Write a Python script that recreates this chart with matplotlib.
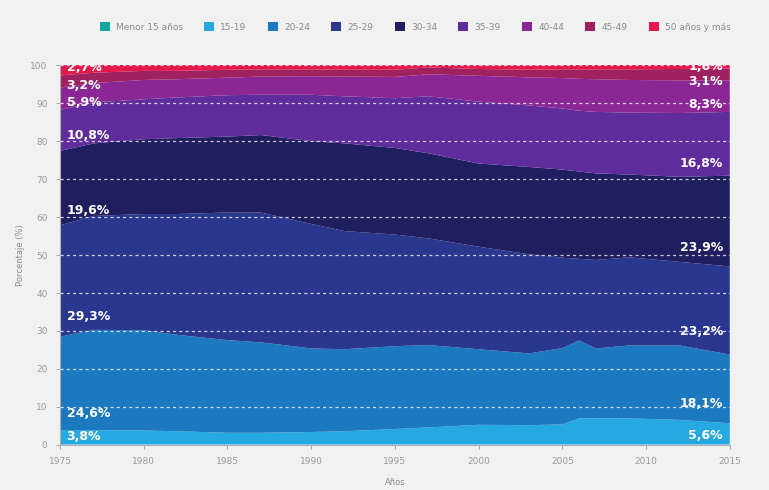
import numpy as np
import matplotlib
matplotlib.use("Agg")
import matplotlib.pyplot as plt
from matplotlib.patches import Patch

years = [1975, 1977, 1980, 1982, 1985, 1987, 1990, 1992, 1995, 1997,
         2000, 2003, 2005, 2006, 2007, 2009, 2012, 2015]

grupos = ["Menor 15 años", "15-19", "20-24", "25-29", "30-34",
          "35-39", "40-44", "45-49", "50 años y más"]

menor15 = [0.1] * 18
g15_19 = [3.8, 3.8, 3.7, 3.5, 3.1, 3.1, 3.3, 3.5, 4.1, 4.5,
          5.2, 5.1, 5.3, 6.9, 6.9, 6.9, 6.5, 5.6]
g20_24 = [24.6, 26.4, 26.4, 25.4, 24.4, 23.8, 22.0, 21.6, 21.8, 21.7,
          19.9, 18.9, 20.1, 20.5, 18.4, 19.2, 19.6, 18.1]
g25_29 = [29.3, 30.0, 30.6, 31.8, 33.6, 34.2, 32.8, 31.1, 29.4, 28.1,
          27.0, 26.1, 23.8, 21.5, 23.3, 23.2, 22.0, 23.2]
g30_34 = [19.6, 19.1, 19.7, 20.0, 20.0, 20.4, 21.8, 23.1, 22.8, 22.4,
          21.9, 23.0, 23.2, 23.0, 22.8, 21.8, 22.4, 23.9]
g35_39 = [10.8, 10.8, 10.5, 10.7, 10.9, 10.6, 12.2, 12.4, 13.1, 15.0,
          16.3, 16.2, 16.1, 16.0, 16.2, 16.3, 16.8, 16.8]
g40_44 = [5.9, 5.1, 5.1, 4.8, 4.6, 4.8, 4.9, 5.2, 5.6, 5.8,
          6.8, 7.4, 8.0, 8.4, 8.6, 8.6, 8.6, 8.3]
g45_49 = [3.2, 2.7, 2.4, 2.2, 2.1, 1.9, 1.8, 1.8, 1.9, 1.8,
          1.8, 2.0, 2.3, 2.5, 2.6, 2.8, 3.0, 3.1]
g50mas = [2.7, 2.2, 1.8, 1.5, 1.3, 1.2, 1.1, 1.2, 1.2, 1.0,
          1.0, 1.2, 1.1, 1.2, 1.2, 1.3, 1.4, 1.6]

series = [menor15, g15_19, g20_24, g25_29, g30_34, g35_39, g40_44, g45_49, g50mas]

colores = ["#17a79a", "#25a9e0", "#1c79c0", "#29378f", "#1f1e5e",
           "#5f2c9c", "#8a2795", "#a0215f", "#e3184b"]

# etiquetas de inicio y final (texto, y)
etq_ini = [("2,7%", 99.3), ("3,2%", 94.7), ("5,9%", 90.3), ("10,8%", 81.4),
           ("19,6%", 61.7), ("29,3%", 33.8), ("24,6%", 8.3), ("3,8%", 2.2)]
etq_fin = [("1,6%", 99.6), ("3,1%", 95.8), ("8,3%", 89.7), ("16,8%", 74.2),
           ("23,9%", 51.9), ("23,2%", 29.8), ("18,1%", 10.8), ("5,6%", 2.6)]

bg = "#f1f1f1"
fig = plt.figure(figsize=(7.69, 4.90), dpi=100, facecolor=bg)
ax = fig.add_axes([0.078, 0.092, 0.871, 0.775])
ax.set_facecolor(bg)

ax.stackplot(years, *series, colors=colores, linewidth=0)

for y in range(10, 101, 10):
    ax.axhline(y, color="white", lw=0.9, ls=(0, (2.5, 2.5)), alpha=0.75, zorder=3)

for txt, y in etq_ini:
    ax.text(1975.4, y, txt, color="white", fontsize=9, fontweight="bold",
            va="center", ha="left", zorder=4, clip_on=True)
for txt, y in etq_fin:
    ax.text(2014.6, y, txt, color="white", fontsize=9, fontweight="bold",
            va="center", ha="right", zorder=4, clip_on=True)

ax.set_xlim(1975, 2015)
ax.set_ylim(0, 100)
ax.set_xticks(range(1975, 2016, 5))
ax.set_yticks(range(0, 101, 10))
ax.tick_params(colors="#9a9a9a", labelsize=6.5, length=3, width=0.6, pad=6)
for s in ["top", "right"]:
    ax.spines[s].set_visible(False)
for s in ["left", "bottom"]:
    ax.spines[s].set_color("#b0b0b0")
    ax.spines[s].set_linewidth(0.8)

ax.set_ylabel("Porcentaje (%)", fontsize=6, color="#8a8a8a")
ax.set_xlabel("Años", fontsize=6, color="#8a8a8a", labelpad=8)

handles = [Patch(facecolor=c, edgecolor="none") for c in colores]
fig.legend(handles, grupos, loc="center", bbox_to_anchor=(0.54, 0.945), ncol=9,
           frameon=False, fontsize=6.5, labelcolor="#8a8a8a", handlelength=1.1,
           handleheight=1.1, columnspacing=2.35, handletextpad=0.7)

fig.savefig("out.png", dpi=100, facecolor=bg)
